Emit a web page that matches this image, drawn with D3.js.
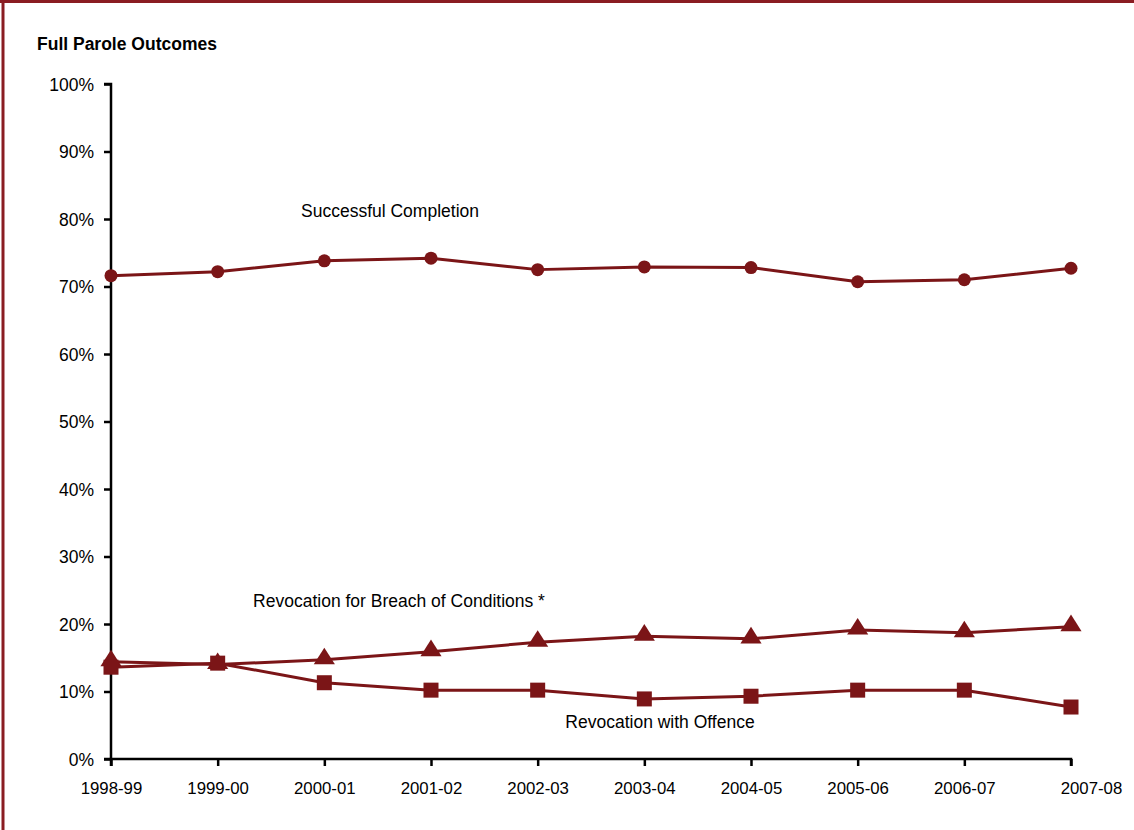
<!DOCTYPE html>
<html>
<head>
<meta charset="utf-8">
<script src="https://cdn.jsdelivr.net/npm/d3@7"></script>
<style>
  html, body { margin: 0; padding: 0; background: #fff; }
  svg { display: block; font-family: "Liberation Sans", Arial, sans-serif; }
</style>
</head>
<body>
<svg id="chart" width="1134" height="830"></svg>
<script>
const categories = ["1998-99","1999-00","2000-01","2001-02","2002-03","2003-04","2004-05","2005-06","2006-07","2007-08"];
const successful = [71.6, 72.2, 73.8, 74.2, 72.5, 72.9, 72.8, 70.7, 71.0, 72.7];
const breach     = [14.4, 14.0, 14.7, 15.9, 17.3, 18.2, 17.8, 19.1, 18.7, 19.6];
const offence    = [13.6, 14.2, 11.3, 10.2, 10.2, 8.9, 9.3, 10.2, 10.2, 7.7];
const yTicks = [0,10,20,30,40,50,60,70,80,90,100];
const title = "Full Parole Outcomes";
const seriesLabels = ["Successful Completion", "Revocation for Breach of Conditions *", "Revocation with Offence"];

const color = "#7b1517";
const svg = d3.select("#chart");

// frame
svg.append("line").attr("x1",3).attr("x2",3).attr("y1",0).attr("y2",830).attr("stroke","#8a1c22").attr("stroke-width",3);
svg.append("line").attr("x1",0).attr("x2",1134).attr("y1",1.5).attr("y2",1.5).attr("stroke","#8a1c22").attr("stroke-width",3);

svg.append("text").attr("x",37).attr("y",50).attr("font-size",17.5).attr("font-weight","bold").attr("fill","#000").text(title);

const x = d3.scalePoint().domain(categories).range([111, 1071]);
const y = d3.scaleLinear().domain([0,100]).range([759, 84]);

const yAxis = svg.append("g").attr("transform","translate(111,0)")
  .call(d3.axisLeft(y).tickValues(yTicks).tickFormat(d => d + "%").tickSize(7).tickPadding(10));
const xAxis = svg.append("g").attr("transform","translate(0,759)")
  .call(d3.axisBottom(x).tickSize(7).tickPadding(16));
[yAxis, xAxis].forEach(g => {
  g.select(".domain").attr("stroke","#000").attr("stroke-width",2.5);
  g.selectAll(".tick line").attr("stroke","#000").attr("stroke-width",2.5);
  g.selectAll(".tick text").attr("fill","#000").attr("font-family","Liberation Sans, Arial, sans-serif");
});
yAxis.selectAll(".tick text").attr("font-size",17.5).attr("dy","0.35em");
xAxis.selectAll(".tick text").attr("font-size",16.8);
xAxis.select(".domain").attr("d", "M111,7V0H1071V7");
yAxis.select(".domain").attr("d", "M-7,84H0V759H-7");
xAxis.selectAll(".tick text").filter(d => d === categories[categories.length-1]).attr("dx", 20);

const line = d3.line().x((d,i) => x(categories[i])).y(d => y(d));

function drawLine(vals) {
  svg.append("path").datum(vals).attr("d", line).attr("fill","none").attr("stroke",color).attr("stroke-width",3).attr("stroke-linejoin","round");
}

drawLine(successful);
svg.append("g").selectAll("circle").data(successful).join("circle")
  .attr("cx",(d,i)=>x(categories[i])).attr("cy",d=>y(d)).attr("r",6.5).attr("fill",color);

drawLine(breach);
const tri = d3.symbol().type(d3.symbolTriangle).size(160);
svg.append("g").selectAll("path").data(breach).join("path")
  .attr("d", tri).attr("transform",(d,i)=>`translate(${x(categories[i])},${y(d)-1}) scale(1.1,1)`).attr("fill",color);

drawLine(offence);
svg.append("g").selectAll("rect").data(offence).join("rect")
  .attr("x",(d,i)=>x(categories[i])-7.5).attr("y",d=>y(d)-7.5).attr("width",15).attr("height",15).attr("fill",color);

// series labels
svg.append("text").attr("x",390).attr("y",217).attr("text-anchor","middle").attr("font-size",17.5).attr("fill","#000").text(seriesLabels[0]);
svg.append("text").attr("x",399).attr("y",607).attr("text-anchor","middle").attr("font-size",17.5).attr("fill","#000").text(seriesLabels[1]);
svg.append("text").attr("x",660).attr("y",728).attr("text-anchor","middle").attr("font-size",17.5).attr("fill","#000").text(seriesLabels[2]);
</script>
</body>
</html>
